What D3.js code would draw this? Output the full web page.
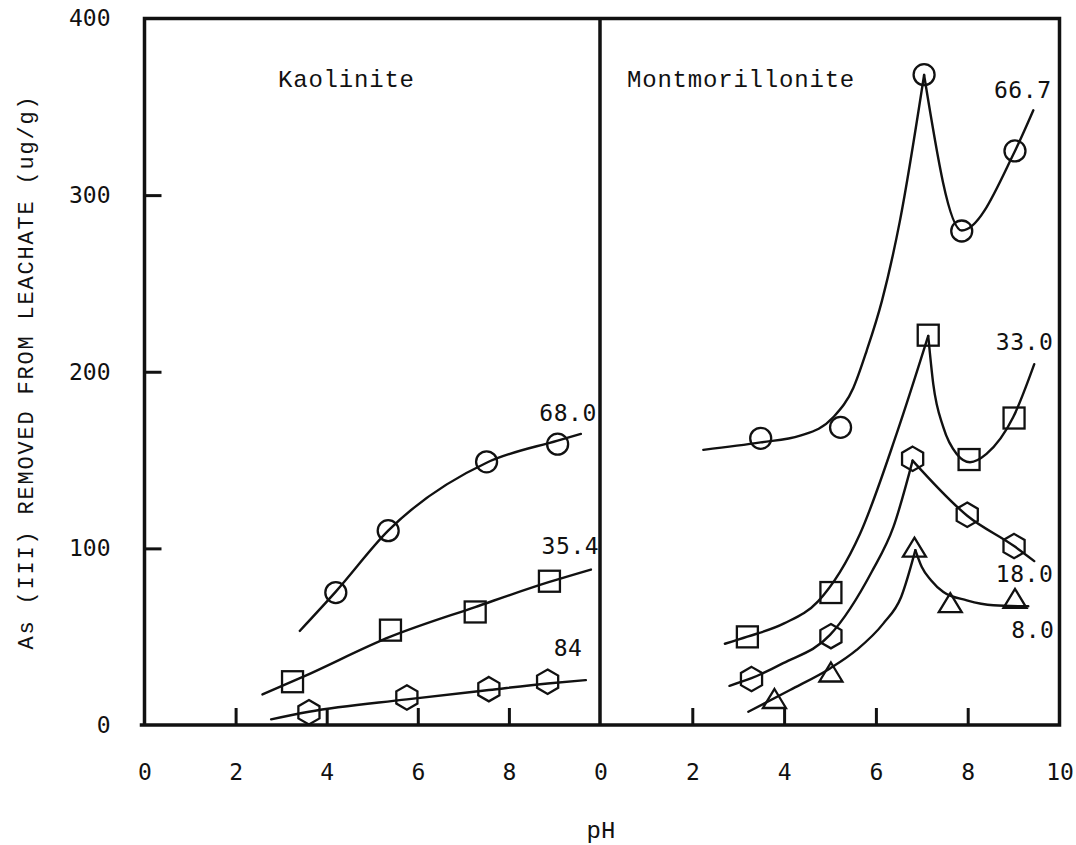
<!DOCTYPE html>
<html>
<head>
<meta charset="utf-8">
<script src="https://cdn.jsdelivr.net/npm/d3@7"></script>
<style>
  body { margin: 0; background: #fff; }
  svg { display: block; }
  .frame { fill: none; stroke: #111; stroke-width: 3.5; stroke-linecap: square; }
  .fit { fill: none; stroke: #111; stroke-width: 2.4; stroke-linecap: round; }
  .mark { fill: none; stroke: #111; stroke-width: 2.3; }
  .tick-label, .curve-label { font-family: "DejaVu Sans Mono", monospace; font-size: 23px; fill: #111; }
  .panel-title, .axis-title { font-family: "Liberation Mono", "Courier New", monospace; fill: #111; }
  .axis .domain { display: none; }
  .axis line { stroke: #111; stroke-width: 3; }
</style>
</head>
<body>
<svg id="chart" width="1076" height="845"></svg>
<script>
// ---- data (pH, As removed ug/g) ----
var xTicksKao = [0, 2, 4, 6, 8];
var xTicksMont = [0, 2, 4, 6, 8, 10];
var yTicks = [0, 100, 200, 300, 400];

// Kaolinite
var kaoLabels = ["68.0", "35.4", "84"];
var kao680 = [[4.2, 75], [5.35, 110], [7.51, 149], [9.07, 159]];
var kao680Fit = [[3.41, 53.3], [4.2, 75.5], [5.35, 110], [7.51, 148.5], [9.07, 161], [9.58, 164.8]];
var kao354 = [[3.25, 24.5], [5.4, 53.7], [7.26, 64], [8.89, 81.4]];
var kao354Fit = [[2.59, 17.3], [3.5, 27.5], [5.4, 50], [7.26, 66.8], [8.89, 81], [9.8, 88]];
var kao84 = [[3.61, 7.2], [5.76, 15.6], [7.56, 20.3], [8.85, 24.5]];
var kao84Fit = [[2.78, 3.2], [3.61, 7.5], [5.76, 14.5], [7.56, 19.8], [8.85, 23.5], [9.69, 25.4]];

// Montmorillonite
var montLabels = ["66.7", "33.0", "18.0", "8.0"];
var mont667 = [[3.49, 162.3], [5.23, 168.5], [7.05, 368.2], [7.87, 279.7], [9.03, 325]];
var mont667FitUp = [[2.24, 155.8], [3.49, 160], [4.35, 163.8], [5.07, 174.2], [5.51, 191], [5.8, 212], [6.13, 240], [6.52, 285], [7.05, 368]];
var mont667FitDown = [[7.05, 368], [7.87, 280], [9.03, 325], [9.43, 348]];
var mont330 = [[3.2, 49.9], [5.02, 75], [7.14, 220.7], [8.03, 150.3], [9.01, 173.8]];
var mont330FitUp = [[2.71, 46], [3.2, 50], [4.0, 57.5], [4.74, 70], [5.65, 108], [6.45, 164.8], [7.14, 220.3]];
var mont330FitDown = [[7.14, 220.3], [7.25, 193], [7.47, 168.5], [7.76, 153.5], [8.05, 148.8], [8.41, 153.5], [8.99, 174.2], [9.45, 204.3]];
var mont180 = [[3.29, 26], [5.02, 50.3], [6.8, 150.7], [7.99, 119], [9.01, 101.3]];
var mont180FitUp = [[2.81, 22.2], [3.29, 26.5], [3.98, 35], [5.0, 51], [5.91, 86.8], [6.38, 112], [6.8, 149.7]];
var mont180FitDown = [[6.8, 149.7], [7.99, 118.5], [9.01, 101.3], [9.45, 92.8]];
var mont80 = [[3.79, 15], [5.02, 30], [6.84, 100.7], [7.62, 69.3], [9.03, 71.7]];
var mont80FitUp = [[3.22, 7.5], [4.13, 19.8], [5.0, 32], [5.58, 42.5], [6.16, 57.4], [6.55, 72.5], [6.86, 99]];
var mont80FitDown = [[6.86, 99], [7.0, 89.4], [7.2, 82], [7.47, 75.3], [7.98, 70.6], [8.56, 67.8], [9.32, 67.2]];

// ---- layout ----
var Config = {
  Top: 18.5,
  Bottom: 725,
  KaoLeft: 144.5,
  Divider: 600,
  MontRight: 1059.5,
  TickLen: 17
};

var svg = d3.select("#chart");

var y = d3.scaleLinear().domain([0, 400]).range([Config.Bottom, Config.Top]);
var xKao = d3.scaleLinear().domain([0, 10]).range([Config.KaoLeft, Config.Divider]);
var xMont = d3.scaleLinear().domain([0, 10]).range([Config.Divider + 0.5, Config.MontRight]);

// shapes for the markers
function hexPath(r) {
  var pts = d3.range(6).map(function (k) {
    var a = -Math.PI / 2 + k * Math.PI / 3;
    return [r * Math.cos(a), r * Math.sin(a)];
  });
  return "M" + pts.join("L") + "Z";
}
var symbols = {
  circle: function (g) { g.append("circle").attr("r", 10.5); },
  square: function (g) { g.append("rect").attr("x", -10.5).attr("y", -10.5).attr("width", 21).attr("height", 21); },
  hexagon: function (g) { g.append("path").attr("d", hexPath(12.2)); },
  triangle: function (g) { g.append("path").attr("d", "M0,-9.5L11.5,9.5L-11.5,9.5Z"); }
};

var kaoSeries = [
  { shape: "circle", pts: kao680, fits: [kao680Fit], label: kaoLabels[0], at: [9.3, 172] },
  { shape: "square", pts: kao354, fits: [kao354Fit], label: kaoLabels[1], at: [9.35, 97] },
  { shape: "hexagon", pts: kao84, fits: [kao84Fit], label: kaoLabels[2], at: [9.3, 39] }
];
var montSeries = [
  { shape: "circle", pts: mont667, fits: [mont667FitUp, mont667FitDown], label: montLabels[0], at: [9.2, 355] },
  { shape: "square", pts: mont330, fits: [mont330FitUp, mont330FitDown], label: montLabels[1], at: [9.24, 212.3] },
  { shape: "hexagon", pts: mont180, fits: [mont180FitUp, mont180FitDown], label: montLabels[2], at: [9.24, 81.1] },
  { shape: "triangle", pts: mont80, fits: [mont80FitUp, mont80FitDown], label: montLabels[3], at: [9.42, 49] }
];

function drawPanel(x, series, ticks, title, titleX) {
  var g = svg.append("g");

  // fitted curves
  var line = d3.line()
    .x(function (d) { return x(d[0]); })
    .y(function (d) { return y(d[1]); })
    .curve(d3.curveMonotoneX);

  series.forEach(function (s) {
    s.fits.forEach(function (seg) {
      g.append("path").attr("class", "fit").attr("d", line(seg));
    });
    g.selectAll(null)
      .data(s.pts)
      .enter()
      .append("g")
      .attr("class", "mark")
      .attr("transform", function (d) { return "translate(" + x(d[0]) + "," + y(d[1]) + ")"; })
      .each(function () { symbols[s.shape](d3.select(this)); });

    g.append("text")
      .attr("class", "curve-label")
      .attr("x", x(s.at[0]))
      .attr("y", y(s.at[1]))
      .attr("text-anchor", "middle")
      .style("letter-spacing", "0.6px")
      .text(s.label);
  });

  // bottom axis: inward ticks, labels below
  var ax = g.append("g")
    .attr("class", "axis")
    .attr("transform", "translate(0," + Config.Bottom + ")")
    .call(d3.axisBottom(x).tickValues(ticks).tickSizeInner(-Config.TickLen).tickSizeOuter(0).tickPadding(39));
  ax.attr("font-family", null).attr("font-size", null);
  ax.selectAll(".tick line").attr("display", function (d) { return (d === 0 || d === 10) ? "none" : null; });
  ax.selectAll(".tick text")
    .attr("class", "tick-label")
    .attr("font-family", null).attr("font-size", null);

  g.append("text")
    .attr("class", "panel-title")
    .attr("x", titleX)
    .attr("y", 87)
    .style("font-size", "24px")
    .style("letter-spacing", "0.8px")
    .text(title);
}

drawPanel(xKao, kaoSeries, xTicksKao, "Kaolinite", 278);
drawPanel(xMont, montSeries, xTicksMont, "Montmorillonite", 627);

// left axis with inward ticks
var yAx = svg.append("g")
  .attr("class", "axis")
  .attr("transform", "translate(" + Config.KaoLeft + ",0)")
  .call(d3.axisLeft(y).tickValues(yTicks).tickSizeInner(-Config.TickLen).tickSizeOuter(0).tickPadding(34));
yAx.attr("font-family", null).attr("font-size", null);
yAx.selectAll(".tick line").attr("display", function (d) { return (d === 0 || d === 400) ? "none" : null; });
yAx.selectAll(".tick text").attr("class", "tick-label").attr("font-family", null).attr("font-size", null);

// frame: two panels sharing the middle line
svg.append("path")
  .attr("class", "frame")
  .attr("d",
    "M" + (Config.KaoLeft - 3) + "," + Config.Bottom + "H" + Config.MontRight + "V" + Config.Top +
    "H" + Config.KaoLeft + "V" + Config.Bottom +
    "M" + Config.Divider + "," + Config.Top + "V" + Config.Bottom);

// axis titles
svg.append("text")
  .attr("class", "axis-title")
  .attr("transform", "translate(27,372) rotate(-90)")
  .attr("text-anchor", "middle")
  .attr("dominant-baseline", "central")
  .style("font-size", "22px")
  .style("letter-spacing", "1.8px")
  .text("As (III) REMOVED FROM LEACHATE (ug/g)");

svg.append("text")
  .attr("class", "axis-title")
  .attr("x", 601)
  .attr("y", 838)
  .attr("text-anchor", "middle")
  .style("font-size", "24px")
  .text("pH");
</script>
</body>
</html>
